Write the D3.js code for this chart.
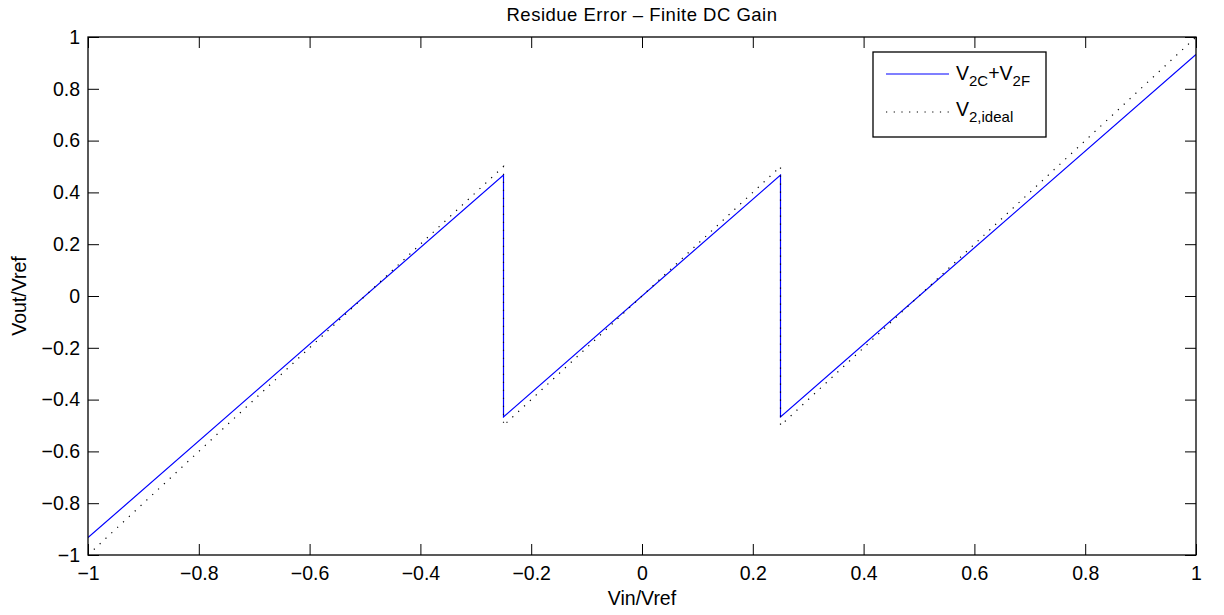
<!DOCTYPE html>
<html>
<head>
<meta charset="utf-8">
<script src="https://cdn.jsdelivr.net/npm/d3@7"></script>
<style>
  html, body { margin: 0; padding: 0; background: #fff; }
  svg { display: block; font-family: "Liberation Sans", Arial, Helvetica, sans-serif; }
</style>
</head>
<body>
<svg id="chart" width="1224" height="615"></svg>
<script>
// ---- data ----
const xBreaks = [-1, -0.25, -0.25, 0.25, 0.25, 1];
const idealValues = [-1, 0.5, -0.5, 0.5, -0.5, 1];
const finiteGainValues = [-0.933, 0.467, -0.467, 0.467, -0.467, 0.933];
const xTicks = [-1, -0.8, -0.6, -0.4, -0.2, 0, 0.2, 0.4, 0.6, 0.8, 1];
const yTicks = [-1, -0.8, -0.6, -0.4, -0.2, 0, 0.2, 0.4, 0.6, 0.8, 1];
const titleText = "Residue Error \u2013 Finite DC Gain";
const xLabelText = "Vin/Vref";
const yLabelText = "Vout/Vref";

// ---- layout ----
const W = 1224, H = 615;
const m = { left: 88, right: 28, top: 37, bottom: 60 };
const iw = W - m.left - m.right, ih = H - m.top - m.bottom;
const fs = 19.5;

const svg = d3.select("#chart");
const g = svg.append("g").attr("transform", `translate(${m.left},${m.top})`);

const x = d3.scaleLinear().domain([-1, 1]).range([0, iw]);
const y = d3.scaleLinear().domain([-1, 1]).range([ih, 0]);

const fmt = v => (v === 0 ? "0" : d3.format("")(v).replace("-", "\u2212"));

// clip
svg.append("defs").append("clipPath").attr("id", "clip")
  .append("rect").attr("width", iw).attr("height", ih);

// lines
const lineGen = d3.line().x(d => x(d[0])).y(d => y(d[1]));
const plot = g.append("g").attr("clip-path", "url(#clip)");

plot.append("path")
  .datum(xBreaks.map((v, i) => [v, finiteGainValues[i]]))
  .attr("d", lineGen)
  .attr("fill", "none")
  .attr("stroke", "#0000ff")
  .attr("stroke-width", 1.2);

plot.append("path")
  .datum(xBreaks.map((v, i) => [v, idealValues[i]]))
  .attr("d", lineGen)
  .attr("fill", "none")
  .attr("stroke", "#000")
  .attr("stroke-width", 1.2)
  .attr("stroke-dasharray", "1.2,6.8");

// axes (ticks inward, mirrored)
const tickLen = 11;
const axB = d3.axisBottom(x).tickValues(xTicks).tickFormat(fmt).tickSizeInner(-tickLen).tickSizeOuter(0).tickPadding(8);
const axL = d3.axisLeft(y).tickValues(yTicks).tickFormat(fmt).tickSizeInner(-tickLen).tickSizeOuter(0).tickPadding(8);
const axT = d3.axisTop(x).tickValues(xTicks).tickFormat("").tickSizeInner(-tickLen).tickSizeOuter(0);
const axR = d3.axisRight(y).tickValues(yTicks).tickFormat("").tickSizeInner(-tickLen).tickSizeOuter(0);

function styleAxis(sel) {
  sel.select(".domain").remove();
  sel.selectAll("line").attr("stroke", "#000").attr("stroke-width", 1);
  sel.selectAll("text").attr("fill", "#000").style("font-size", fs + "px")
     .style("font-family", '"Liberation Sans", Arial, sans-serif');
}
g.append("g").attr("transform", `translate(0,${ih})`).call(axB).call(styleAxis)
  .selectAll("text").attr("dy", "0.85em");
g.append("g").call(axL).call(styleAxis);
g.append("g").call(axT).call(styleAxis);
g.append("g").attr("transform", `translate(${iw},0)`).call(axR).call(styleAxis);

// box
g.append("rect").attr("x", 0).attr("y", 0).attr("width", iw).attr("height", ih)
  .attr("fill", "none").attr("stroke", "#000").attr("stroke-width", 1.3);

// title and labels
svg.append("text").attr("x", m.left + iw / 2).attr("y", 21)
  .attr("text-anchor", "middle").style("font-size", "18.5px").style("letter-spacing", "0.5px").text(titleText);
svg.append("text").attr("x", m.left + iw / 2).attr("y", 605)
  .attr("text-anchor", "middle").style("font-size", fs + "px").text(xLabelText);
svg.append("text").attr("transform", `translate(26,${m.top + ih / 2}) rotate(-90)`)
  .attr("text-anchor", "middle").style("font-size", fs + "px").text(yLabelText);

// legend
const lg = svg.append("g").attr("transform", "translate(873,52)");
lg.append("rect").attr("width", 173).attr("height", 85)
  .attr("fill", "#fff").attr("stroke", "#000").attr("stroke-width", 1.3);
lg.append("line").attr("x1", 13).attr("x2", 76).attr("y1", 22).attr("y2", 22)
  .attr("stroke", "#0000ff").attr("stroke-width", 1.2);
lg.append("line").attr("x1", 13).attr("x2", 76).attr("y1", 60).attr("y2", 60)
  .attr("stroke", "#000").attr("stroke-width", 1.2).attr("stroke-dasharray", "1.2,6.5");

const t1 = lg.append("text").attr("x", 83).attr("y", 28).style("font-size", fs + "px");
t1.append("tspan").text("V");
t1.append("tspan").attr("dy", 6).style("font-size", "15px").text("2C");
t1.append("tspan").attr("dy", -6).text("+V");
t1.append("tspan").attr("dy", 6).style("font-size", "15px").text("2F");

const t2 = lg.append("text").attr("x", 83).attr("y", 64).style("font-size", fs + "px");
t2.append("tspan").text("V");
t2.append("tspan").attr("dy", 6).style("font-size", "15px").text("2,ideal");
</script>
</body>
</html>
